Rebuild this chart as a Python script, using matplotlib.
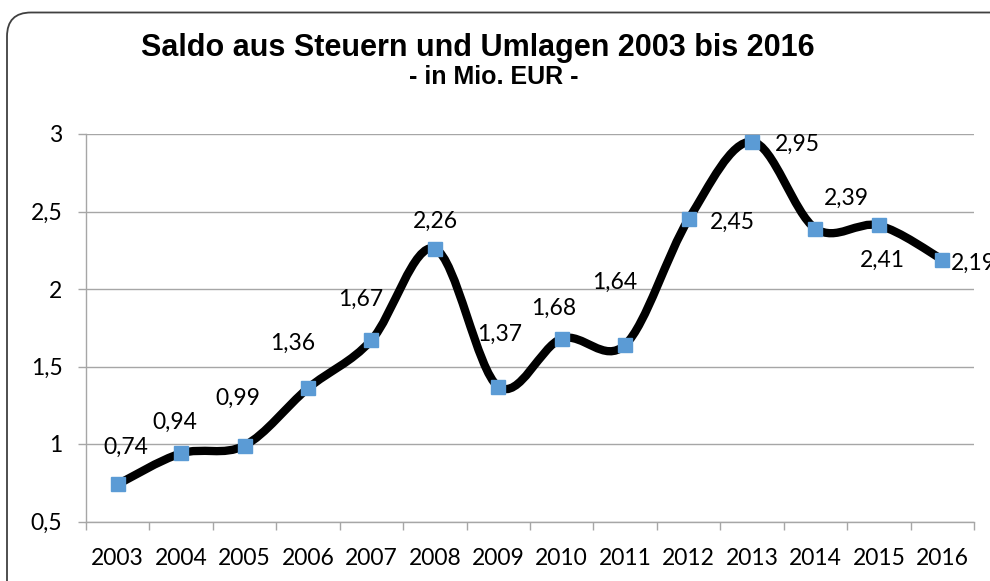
import matplotlib
matplotlib.use('Agg')
import matplotlib.pyplot as plt
from matplotlib.path import Path
from matplotlib.patches import PathPatch, FancyBboxPatch
import numpy as np

years = ['2003', '2004', '2005', '2006', '2007', '2008', '2009',
         '2010', '2011', '2012', '2013', '2014', '2015', '2016']
values = [0.74, 0.94, 0.99, 1.36, 1.67, 2.26, 1.37,
          1.68, 1.64, 2.45, 2.95, 2.39, 2.41, 2.19]
value_labels = ['0,74', '0,94', '0,99', '1,36', '1,67', '2,26', '1,37',
                '1,68', '1,64', '2,45', '2,95', '2,39', '2,41', '2,19']
y_ticks = [0.5, 1.0, 1.5, 2.0, 2.5, 3.0]
y_tick_labels = ['0,5', '1', '1,5', '2', '2,5', '3']
title = 'Saldo aus Steuern und Umlagen 2003 bis 2016'
subtitle = '- in Mio. EUR -'

# label placement (pixel offsets: right, down)
label_offsets = [(8, -37), (-6, -31), (-7, -47), (-15, -45), (-11, -41),
                 (1, -27), (1, -52), (-8, -30), (-10, -62), (44, 3),
                 (45, 3), (31, -30), (4, 35), (31, 4)]

W, H = 990, 581
fig = plt.figure(figsize=(W / 100, H / 100), dpi=100)
L, R, T, B = 86, 974, 134, 521.5
ax = fig.add_axes([L / W, 1 - B / H, (R - L) / W, (B - T) / H])

n = len(years)
x = np.arange(n)
ax.set_xlim(-0.5, n - 0.5)
ax.set_ylim(0.5, 3.0)

fs = 16.5
grid_col = '#A6A6A6'
ax.set_yticks(y_ticks, y_tick_labels)
ax.grid(axis='y', color=grid_col, lw=1.0)
ax.set_axisbelow(True)

ax.set_xticks(x, years)
ax.set_xticks(np.arange(-0.5, n), minor=True)
ax.tick_params(axis='x', which='major', length=0, pad=19, labelsize=fs)
ax.tick_params(axis='x', which='minor', length=6, width=1, color=grid_col,
               direction='out')
ax.tick_params(axis='y', which='major', length=6, width=1, color=grid_col,
               pad=11, labelsize=fs)
for lab in ax.get_xticklabels() + ax.get_yticklabels():
    lab.set_family(['Lato', 'DejaVu Sans'])

for s in ['top', 'right']:
    ax.spines[s].set_visible(False)
for s in ['left', 'bottom']:
    ax.spines[s].set_color(grid_col)
    ax.spines[s].set_linewidth(1.0)

# smooth line (Catmull-Rom -> cubic Bezier)
pts = np.column_stack([x, values]).astype(float)
verts = [tuple(pts[0])]
codes = [Path.MOVETO]
for i in range(n - 1):
    p0 = pts[i - 1] if i > 0 else pts[i]
    p1 = pts[i]
    p2 = pts[i + 1]
    p3 = pts[i + 2] if i + 2 < n else pts[i + 1]
    c1 = p1 + (p2 - p0) / 6.0
    c2 = p2 - (p3 - p1) / 6.0
    verts += [tuple(c1), tuple(c2), tuple(p2)]
    codes += [Path.CURVE4] * 3
patch = PathPatch(Path(verts, codes), facecolor='none', edgecolor='black',
                  lw=6.0, capstyle='round', joinstyle='round', zorder=2)
ax.add_patch(patch)

ax.plot(x, values, linestyle='none', marker='s', ms=9.5, color='#5B9BD5',
        mec='#5B9BD5', zorder=3, clip_on=False)

for xi, v, lbl, (dx, dy) in zip(x, values, value_labels, label_offsets):
    ax.annotate(lbl, (xi, v), xytext=(dx, -dy), textcoords='offset pixels',
                ha='center', va='center', fontsize=fs,
                family=['Lato', 'DejaVu Sans'], annotation_clip=False, zorder=4)

fig.text(478 / W, 1 - 48 / H, title, ha='center', va='center',
         fontsize=22, fontweight='bold', family=['Liberation Sans', 'DejaVu Sans'])
fig.text(494 / W, 1 - 77 / H, subtitle, ha='center', va='center',
         fontsize=18, fontweight='bold', family=['Liberation Sans', 'DejaVu Sans'])

border = FancyBboxPatch((7, -30), 1010, H - 12.5 + 30,
                        boxstyle='round,pad=0,rounding_size=24',
                        facecolor='none', edgecolor='#404040', lw=1.3,
                        transform=None)
fig.add_artist(border)

fig.savefig('out.png', dpi=100)
